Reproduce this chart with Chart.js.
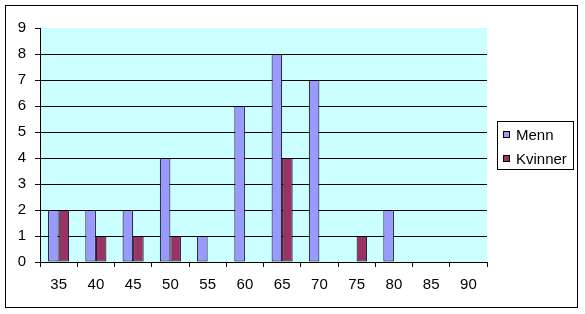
<!DOCTYPE html>
<html>
<head>
<meta charset="utf-8">
<script src="https://cdn.jsdelivr.net/npm/chart.js@4/dist/chart.umd.min.js"></script>
<style>
html,body{margin:0;padding:0;background:#fff;}
#wrap{width:585px;height:314px;position:relative;}
</style>
</head>
<body>
<div id="wrap"><canvas id="c" width="585" height="314"></canvas></div>
<script>
const categories = ['35','40','45','50','55','60','65','70','75','80','85','90'];
const menn =     [2, 2, 2, 4, 1, 6, 8, 7, 0, 2, 0, 0];
const kvinner =  [2, 1, 1, 1, 0, 0, 4, 0, 1, 0, 0, 0];
const seriesNames = ['Menn', 'Kvinner'];
const seriesColors = ['#9999FF', '#993366'];
const yTicks = [0,1,2,3,4,5,6,7,8,9];

const FONT = 'Arial, "Liberation Sans", sans-serif';

const decor = {
  id: 'decor',
  beforeDraw(chart) {
    const ctx = chart.ctx, a = chart.chartArea;
    ctx.save();
    ctx.fillStyle = '#fff';
    ctx.fillRect(0, 0, chart.width, chart.height);
    ctx.fillStyle = '#CCFFFF';
    ctx.fillRect(a.left, a.top, a.right - a.left, a.bottom - a.top);
    ctx.strokeStyle = '#000';
    ctx.lineWidth = 1;
    ctx.strokeRect(5.5, 5.5, 572, 302);
    ctx.restore();
  },
  afterDraw(chart) {
    const ctx = chart.ctx;
    ctx.save();
    ctx.strokeStyle = '#000';
    ctx.lineWidth = 1;
    ctx.strokeRect(497.5, 121.5, 76, 48);
    ctx.font = '15px ' + FONT;
    ctx.textBaseline = 'alphabetic';
    chart.data.datasets.forEach((ds, i) => {
      const y = 131 + i * 24;
      ctx.fillStyle = ds.backgroundColor;
      ctx.fillRect(503, y, 7, 7);
      ctx.strokeRect(503.5, y + 0.5, 6, 6);
      ctx.fillStyle = '#000';
      ctx.fillText(ds.label, 516, y + 9);
    });
    ctx.restore();
  }
};

new Chart(document.getElementById('c'), {
  type: 'bar',
  data: {
    labels: categories,
    datasets: [
      { label: seriesNames[0], data: menn, backgroundColor: seriesColors[0], borderColor: '#000', borderWidth: 1, borderSkipped: false },
      { label: seriesNames[1], data: kvinner, backgroundColor: seriesColors[1], borderColor: '#000', borderWidth: 1, borderSkipped: false }
    ]
  },
  options: {
    responsive: false,
    animation: false,
    devicePixelRatio: 1,
    layout: { padding: { left: 0, top: 28, right: 98, bottom: 0 } },
    datasets: { bar: { categoryPercentage: 0.565, barPercentage: 1.0 } },
    plugins: { legend: { display: false }, tooltip: { enabled: false } },
    scales: {
      x: {
        afterFit(s) { s.height = 52; },
        grid: { drawOnChartArea: false, color: '#000', tickColor: '#000', tickLength: 5, offset: true },
        border: { color: '#000', width: 1 },
        ticks: { color: '#000', font: { family: FONT, size: 15 }, padding: 9, maxRotation: 0 }
      },
      y: {
        min: 0, max: 9,
        afterFit(s) { s.width = 40; },
        afterBuildTicks(s) { s.ticks = yTicks.map(v => ({ value: v })); },
        grid: {
          color: ctx => (ctx.tick && ctx.tick.value === 9) ? 'rgba(0,0,0,0)' : '#000',
          tickColor: '#000', tickLength: 5
        },
        border: { color: '#000', width: 1 },
        ticks: { color: '#000', font: { family: FONT, size: 15 }, padding: 9, stepSize: 1 }
      }
    }
  },
  plugins: [decor]
});
</script>
</body>
</html>
